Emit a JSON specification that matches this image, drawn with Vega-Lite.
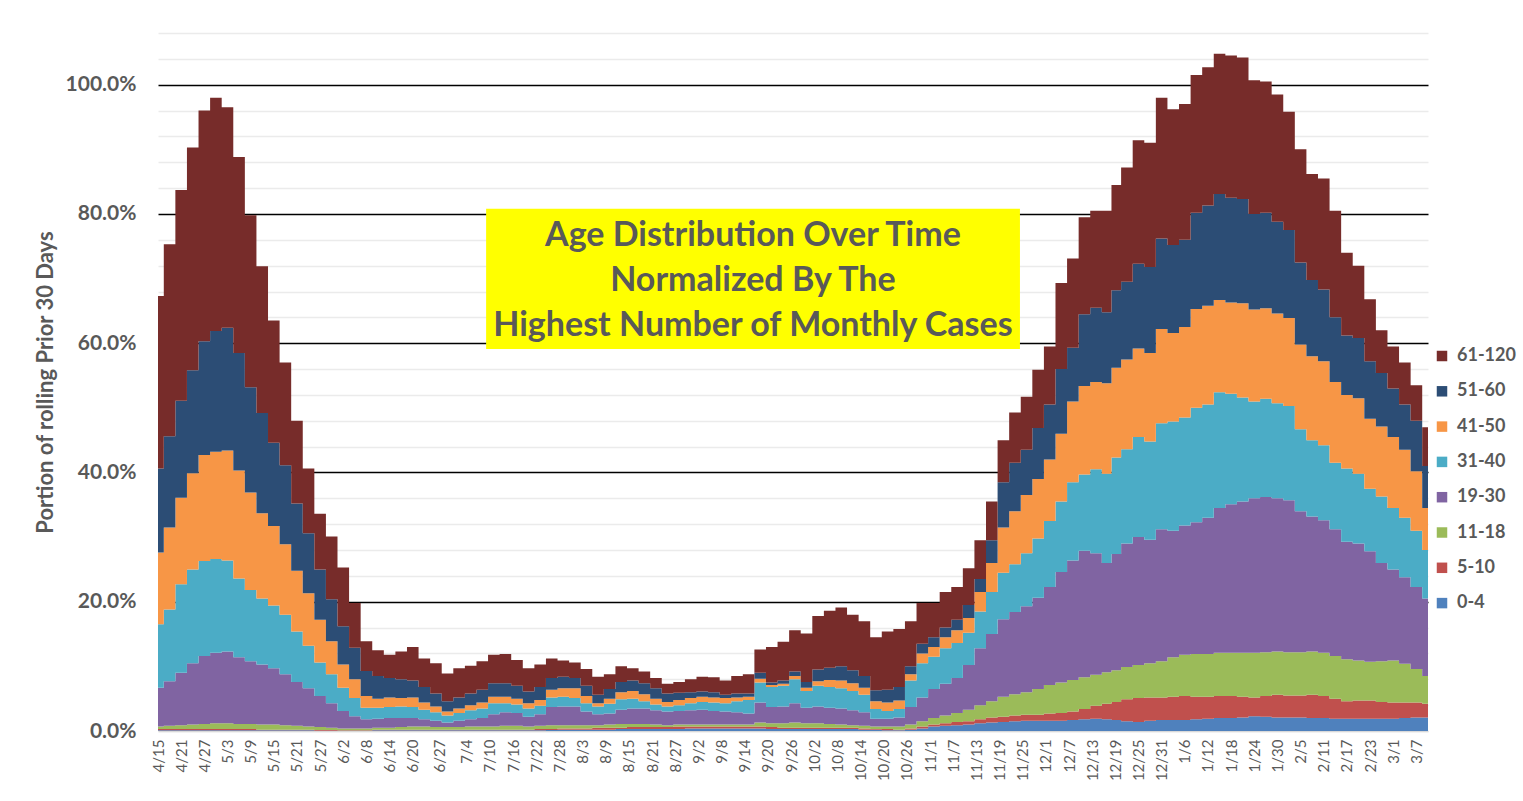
{
"$schema":"https://vega.github.io/schema/vega-lite/v6.json",
"width":1270,"height":698,
"autosize":{"type":"none"},
"padding":{"left":158,"top":33,"right":95,"bottom":70},
"background":"white",
"config":{"view":{"stroke":null},"font":"Lato"},
"datasets":{
"groups":[{"k":"a","age":"0-4","o":1},{"k":"b","age":"5-10","o":2},{"k":"c","age":"11-18","o":3},{"k":"d","age":"19-30","o":4},{"k":"e","age":"31-40","o":5},{"k":"f","age":"41-50","o":6},{"k":"g","age":"51-60","o":7},{"k":"h","age":"61-120","o":8}],
"rows":[
{"day":"2020-04-15","a":0.1,"b":0.2,"c":0.4,"d":6.0,"e":9.8,"f":11.1,"g":13.0,"h":26.7},
{"day":"2020-04-18","a":0.1,"b":0.2,"c":0.5,"d":6.9,"e":11.1,"f":12.7,"g":14.1,"h":29.7},
{"day":"2020-04-21","a":0.1,"b":0.2,"c":0.6,"d":8.1,"e":13.7,"f":13.4,"g":15.0,"h":32.6},
{"day":"2020-04-24","a":0.1,"b":0.2,"c":0.7,"d":9.5,"e":14.5,"f":14.9,"g":15.9,"h":34.5},
{"day":"2020-04-27","a":0.1,"b":0.2,"c":0.8,"d":10.5,"e":14.7,"f":16.4,"g":17.6,"h":35.7},
{"day":"2020-04-30","a":0.1,"b":0.2,"c":0.9,"d":10.9,"e":14.5,"f":16.6,"g":18.7,"h":36.1},
{"day":"2020-05-03","a":0.1,"b":0.2,"c":0.9,"d":11.1,"e":14.1,"f":17.0,"g":19.0,"h":34.1},
{"day":"2020-05-06","a":0.1,"b":0.2,"c":0.8,"d":10.3,"e":12.2,"f":16.7,"g":18.2,"h":30.3},
{"day":"2020-05-09","a":0.1,"b":0.2,"c":0.8,"d":9.7,"e":11.0,"f":15.1,"g":16.3,"h":26.6},
{"day":"2020-05-12","a":0.1,"b":0.1,"c":0.8,"d":9.3,"e":10.2,"f":13.2,"g":15.5,"h":22.7},
{"day":"2020-05-15","a":0.1,"b":0.1,"c":0.8,"d":8.7,"e":9.7,"f":12.3,"g":12.9,"h":18.9},
{"day":"2020-05-18","a":0.1,"b":0.1,"c":0.7,"d":7.9,"e":9.2,"f":10.9,"g":12.2,"h":15.9},
{"day":"2020-05-21","a":0.1,"b":0.1,"c":0.6,"d":6.8,"e":7.8,"f":9.4,"g":10.4,"h":12.8},
{"day":"2020-05-24","a":0.1,"b":0.1,"c":0.5,"d":5.9,"e":6.6,"f":8.1,"g":9.3,"h":10.0},
{"day":"2020-05-27","a":0.05,"b":0.1,"c":0.45,"d":4.8,"e":5.2,"f":6.6,"g":7.8,"h":8.6},
{"day":"2020-05-30","a":0.05,"b":0.1,"c":0.35,"d":3.8,"e":4.5,"f":5.1,"g":6.5,"h":9.7},
{"day":"2020-06-02","a":0.05,"b":0.05,"c":0.3,"d":2.7,"e":3.6,"f":3.6,"g":5.9,"h":9.1},
{"day":"2020-06-05","a":0.05,"b":0.05,"c":0.3,"d":1.9,"e":2.8,"f":2.9,"g":4.9,"h":6.9},
{"day":"2020-06-08","a":0.05,"b":0.05,"c":0.3,"d":1.4,"e":1.8,"f":1.8,"g":3.9,"h":4.6},
{"day":"2020-06-11","a":0.1,"b":0.1,"c":0.3,"d":1.4,"e":1.7,"f":1.4,"g":3.5,"h":4.0},
{"day":"2020-06-14","a":0.1,"b":0.1,"c":0.3,"d":1.5,"e":1.7,"f":1.5,"g":3.0,"h":3.6},
{"day":"2020-06-17","a":0.1,"b":0.1,"c":0.4,"d":1.4,"e":1.8,"f":1.3,"g":2.9,"h":4.3},
{"day":"2020-06-20","a":0.1,"b":0.1,"c":0.5,"d":1.3,"e":1.7,"f":1.5,"g":2.6,"h":5.2},
{"day":"2020-06-23","a":0.1,"b":0.1,"c":0.5,"d":1.1,"e":1.5,"f":1.1,"g":2.4,"h":4.4},
{"day":"2020-06-26","a":0.1,"b":0.1,"c":0.4,"d":1.0,"e":1.3,"f":0.9,"g":2.0,"h":4.7},
{"day":"2020-06-29","a":0.1,"b":0.1,"c":0.4,"d":0.7,"e":1.1,"f":0.6,"g":1.6,"h":4.3},
{"day":"2020-07-02","a":0.1,"b":0.1,"c":0.4,"d":1.0,"e":1.2,"f":0.7,"g":1.7,"h":4.5},
{"day":"2020-07-05","a":0.1,"b":0.1,"c":0.5,"d":1.1,"e":1.4,"f":0.8,"g":1.8,"h":4.3},
{"day":"2020-07-08","a":0.1,"b":0.1,"c":0.5,"d":1.3,"e":1.5,"f":0.9,"g":2.0,"h":4.4},
{"day":"2020-07-11","a":0.1,"b":0.1,"c":0.5,"d":1.9,"e":1.7,"f":1.0,"g":2.1,"h":4.4},
{"day":"2020-07-14","a":0.1,"b":0.1,"c":0.6,"d":2.1,"e":1.4,"f":1.0,"g":2.1,"h":4.5},
{"day":"2020-07-17","a":0.1,"b":0.1,"c":0.6,"d":2.0,"e":1.3,"f":0.9,"g":2.0,"h":4.0},
{"day":"2020-07-20","a":0.1,"b":0.1,"c":0.5,"d":1.5,"e":1.3,"f":0.8,"g":1.8,"h":3.6},
{"day":"2020-07-23","a":0.1,"b":0.2,"c":0.5,"d":1.8,"e":1.3,"f":0.9,"g":2.0,"h":3.5},
{"day":"2020-07-26","a":0.15,"b":0.15,"c":0.6,"d":2.8,"e":1.5,"f":1.2,"g":1.8,"h":3.0},
{"day":"2020-07-29","a":0.2,"b":0.2,"c":0.5,"d":2.9,"e":1.5,"f":1.3,"g":1.8,"h":2.5},
{"day":"2020-08-01","a":0.2,"b":0.2,"c":0.5,"d":2.9,"e":1.3,"f":1.5,"g":1.6,"h":2.4},
{"day":"2020-08-04","a":0.2,"b":0.2,"c":0.5,"d":2.1,"e":1.3,"f":1.1,"g":1.6,"h":2.6},
{"day":"2020-08-07","a":0.2,"b":0.3,"c":0.4,"d":1.7,"e":1.2,"f":0.5,"g":1.3,"h":2.8},
{"day":"2020-08-10","a":0.2,"b":0.3,"c":0.5,"d":1.7,"e":1.5,"f":0.8,"g":1.5,"h":2.3},
{"day":"2020-08-13","a":0.3,"b":0.2,"c":0.6,"d":2.2,"e":1.6,"f":1.1,"g":1.6,"h":2.4},
{"day":"2020-08-16","a":0.3,"b":0.3,"c":0.5,"d":2.4,"e":1.5,"f":1.2,"g":1.6,"h":1.9},
{"day":"2020-08-19","a":0.3,"b":0.3,"c":0.5,"d":2.4,"e":1.1,"f":1.1,"g":1.7,"h":1.8},
{"day":"2020-08-22","a":0.3,"b":0.3,"c":0.4,"d":2.2,"e":0.9,"f":0.9,"g":1.6,"h":1.6},
{"day":"2020-08-25","a":0.3,"b":0.3,"c":0.3,"d":2.1,"e":0.8,"f":0.7,"g":1.3,"h":1.5},
{"day":"2020-08-28","a":0.3,"b":0.4,"c":0.3,"d":2.1,"e":0.9,"f":0.8,"g":1.1,"h":1.7},
{"day":"2020-08-31","a":0.4,"b":0.3,"c":0.3,"d":2.2,"e":1.1,"f":0.8,"g":0.9,"h":2.0},
{"day":"2020-09-03","a":0.4,"b":0.3,"c":0.3,"d":2.3,"e":1.2,"f":0.8,"g":0.8,"h":2.3},
{"day":"2020-09-06","a":0.4,"b":0.3,"c":0.3,"d":2.1,"e":1.3,"f":0.8,"g":0.8,"h":2.3},
{"day":"2020-09-09","a":0.4,"b":0.3,"c":0.3,"d":2.0,"e":1.3,"f":0.8,"g":0.5,"h":2.2},
{"day":"2020-09-12","a":0.4,"b":0.3,"c":0.3,"d":1.9,"e":1.7,"f":0.6,"g":0.6,"h":2.7},
{"day":"2020-09-15","a":0.4,"b":0.3,"c":0.3,"d":1.7,"e":2.1,"f":0.5,"g":0.5,"h":3.0},
{"day":"2020-09-18","a":0.4,"b":0.3,"c":0.6,"d":3.1,"e":3.1,"f":0.6,"g":0.9,"h":3.6},
{"day":"2020-09-21","a":0.3,"b":0.3,"c":0.6,"d":2.5,"e":3.1,"f":0.3,"g":0.4,"h":5.5},
{"day":"2020-09-24","a":0.3,"b":0.2,"c":0.7,"d":2.6,"e":3.2,"f":0.3,"g":0.5,"h":6.0},
{"day":"2020-09-27","a":0.3,"b":0.2,"c":0.8,"d":3.0,"e":3.7,"f":0.5,"g":0.7,"h":6.4},
{"day":"2020-09-30","a":0.3,"b":0.2,"c":0.7,"d":2.4,"e":2.6,"f":0.5,"g":0.9,"h":7.5},
{"day":"2020-10-03","a":0.3,"b":0.2,"c":0.7,"d":2.6,"e":3.2,"f":0.7,"g":1.8,"h":8.3},
{"day":"2020-10-06","a":0.3,"b":0.2,"c":0.6,"d":2.5,"e":3.2,"f":1.1,"g":1.9,"h":8.8},
{"day":"2020-10-09","a":0.3,"b":0.2,"c":0.5,"d":2.5,"e":3.1,"f":1.2,"g":2.2,"h":9.1},
{"day":"2020-10-12","a":0.3,"b":0.2,"c":0.4,"d":2.3,"e":3.0,"f":1.2,"g":2.0,"h":8.6},
{"day":"2020-10-15","a":0.2,"b":0.2,"c":0.4,"d":2.1,"e":2.7,"f":1.1,"g":1.8,"h":8.5},
{"day":"2020-10-18","a":0.2,"b":0.1,"c":0.4,"d":1.2,"e":1.5,"f":1.2,"g":1.7,"h":8.2},
{"day":"2020-10-21","a":0.1,"b":0.2,"c":0.4,"d":1.2,"e":1.2,"f":1.3,"g":2.0,"h":9.0},
{"day":"2020-10-24","a":0.1,"b":0.1,"c":0.5,"d":1.4,"e":1.3,"f":1.3,"g":2.1,"h":9.0},
{"day":"2020-10-27","a":0.2,"b":0.2,"c":0.6,"d":2.7,"e":4.1,"f":1.0,"g":1.2,"h":7.0},
{"day":"2020-10-30","a":0.4,"b":0.3,"c":0.8,"d":3.7,"e":5.3,"f":1.5,"g":1.5,"h":6.3},
{"day":"2020-11-02","a":0.7,"b":0.3,"c":1.0,"d":4.5,"e":5.0,"f":1.5,"g":1.5,"h":5.3},
{"day":"2020-11-05","a":0.8,"b":0.4,"c":1.2,"d":4.9,"e":5.5,"f":1.7,"g":1.5,"h":5.5},
{"day":"2020-11-08","a":0.9,"b":0.5,"c":1.4,"d":5.4,"e":5.4,"f":2.0,"g":1.6,"h":5.1},
{"day":"2020-11-11","a":1.0,"b":0.5,"c":1.8,"d":6.9,"e":5.0,"f":2.3,"g":2.0,"h":5.7},
{"day":"2020-11-14","a":1.2,"b":0.6,"c":2.2,"d":8.8,"e":5.7,"f":3.0,"g":2.0,"h":6.0},
{"day":"2020-11-17","a":1.3,"b":0.8,"c":2.5,"d":10.4,"e":6.5,"f":4.5,"g":3.5,"h":6.0},
{"day":"2020-11-20","a":1.4,"b":0.8,"c":3.1,"d":12.0,"e":7.2,"f":7.0,"g":7.0,"h":6.5},
{"day":"2020-11-23","a":1.5,"b":0.9,"c":3.3,"d":12.7,"e":7.4,"f":8.2,"g":7.5,"h":7.8},
{"day":"2020-11-26","a":1.6,"b":0.9,"c":3.5,"d":13.3,"e":8.2,"f":9.0,"g":7.0,"h":8.2},
{"day":"2020-11-29","a":1.6,"b":0.9,"c":4.0,"d":14.1,"e":9.2,"f":9.2,"g":7.9,"h":9.0},
{"day":"2020-12-02","a":1.6,"b":1.1,"c":4.4,"d":15.2,"e":10.2,"f":9.5,"g":8.5,"h":9.0},
{"day":"2020-12-05","a":1.6,"b":1.2,"c":4.7,"d":17.1,"e":10.9,"f":10.5,"g":10.0,"h":13.3},
{"day":"2020-12-08","a":1.7,"b":1.3,"c":4.9,"d":18.5,"e":12.1,"f":12.5,"g":8.3,"h":13.8},
{"day":"2020-12-11","a":1.8,"b":1.6,"c":4.9,"d":19.6,"e":11.8,"f":13.7,"g":11.1,"h":15.0},
{"day":"2020-12-14","a":1.9,"b":2.0,"c":4.8,"d":18.8,"e":13.0,"f":13.5,"g":11.5,"h":15.0},
{"day":"2020-12-17","a":1.8,"b":2.4,"c":4.9,"d":16.9,"e":13.8,"f":14.0,"g":11.0,"h":15.7},
{"day":"2020-12-19","a":1.7,"b":2.8,"c":4.9,"d":18.0,"e":14.9,"f":13.9,"g":12.0,"h":16.3},
{"day":"2020-12-22","a":1.5,"b":3.4,"c":5.0,"d":19.1,"e":14.6,"f":13.9,"g":12.0,"h":17.7},
{"day":"2020-12-25","a":1.4,"b":3.7,"c":5.1,"d":19.8,"e":15.5,"f":13.7,"g":13.1,"h":19.1},
{"day":"2020-12-28","a":1.6,"b":3.6,"c":5.3,"d":19.1,"e":15.2,"f":13.7,"g":13.3,"h":19.2},
{"day":"2020-12-31","a":1.7,"b":3.5,"c":5.6,"d":20.4,"e":16.4,"f":14.6,"g":14.0,"h":21.8},
{"day":"2021-01-03","a":1.7,"b":3.6,"c":6.1,"d":19.6,"e":16.9,"f":13.7,"g":13.6,"h":21.0},
{"day":"2021-01-06","a":1.7,"b":3.7,"c":6.4,"d":20.0,"e":16.7,"f":14.0,"g":13.5,"h":21.0},
{"day":"2021-01-09","a":1.8,"b":3.5,"c":6.6,"d":20.4,"e":17.7,"f":15.3,"g":14.9,"h":21.3},
{"day":"2021-01-12","a":1.9,"b":3.4,"c":6.6,"d":21.1,"e":17.5,"f":15.3,"g":15.5,"h":21.4},
{"day":"2021-01-15","a":2.0,"b":3.4,"c":6.7,"d":22.4,"e":17.9,"f":14.3,"g":16.4,"h":21.7},
{"day":"2021-01-18","a":2.0,"b":3.4,"c":6.7,"d":23.0,"e":17.1,"f":14.1,"g":16.2,"h":22.0},
{"day":"2021-01-21","a":2.1,"b":3.2,"c":6.8,"d":23.4,"e":16.1,"f":14.6,"g":16.1,"h":21.9},
{"day":"2021-01-24","a":2.3,"b":2.9,"c":6.9,"d":23.9,"e":15.0,"f":14.2,"g":14.8,"h":20.7},
{"day":"2021-01-27","a":2.2,"b":3.2,"c":6.8,"d":24.0,"e":15.2,"f":14.0,"g":14.8,"h":20.3},
{"day":"2021-01-30","a":2.1,"b":3.5,"c":6.7,"d":23.7,"e":14.7,"f":13.9,"g":14.2,"h":19.7},
{"day":"2021-02-02","a":2.1,"b":3.4,"c":6.7,"d":23.5,"e":14.6,"f":13.6,"g":13.6,"h":18.3},
{"day":"2021-02-05","a":2.1,"b":3.4,"c":6.7,"d":21.8,"e":12.7,"f":13.1,"g":12.7,"h":17.5},
{"day":"2021-02-08","a":2.0,"b":3.6,"c":6.7,"d":20.9,"e":11.8,"f":13.0,"g":11.8,"h":16.4},
{"day":"2021-02-11","a":2.0,"b":3.4,"c":6.7,"d":20.5,"e":11.6,"f":13.0,"g":11.1,"h":17.2},
{"day":"2021-02-14","a":1.9,"b":3.1,"c":6.6,"d":19.6,"e":10.3,"f":12.5,"g":10.0,"h":16.5},
{"day":"2021-02-17","a":1.9,"b":2.7,"c":6.5,"d":18.2,"e":11.3,"f":11.4,"g":9.2,"h":12.8},
{"day":"2021-02-20","a":1.9,"b":2.8,"c":6.2,"d":18.1,"e":10.8,"f":11.7,"g":9.3,"h":11.2},
{"day":"2021-02-23","a":1.9,"b":2.8,"c":6.0,"d":17.1,"e":9.7,"f":10.8,"g":8.9,"h":9.6},
{"day":"2021-02-26","a":1.9,"b":2.6,"c":6.3,"d":15.2,"e":10.3,"f":10.8,"g":8.3,"h":6.6},
{"day":"2021-03-01","a":1.9,"b":2.5,"c":6.5,"d":14.1,"e":9.5,"f":11.0,"g":7.5,"h":6.5},
{"day":"2021-03-04","a":2.0,"b":2.4,"c":6.0,"d":13.4,"e":9.2,"f":10.5,"g":7.0,"h":6.5},
{"day":"2021-03-07","a":2.1,"b":2.3,"c":5.2,"d":12.7,"e":8.7,"f":9.2,"g":7.8,"h":5.5},
{"day":"2021-03-10","a":2.1,"b":2.1,"c":4.3,"d":12.0,"e":7.5,"f":6.5,"g":6.5,"h":6.0}
]},
"layer":[
{
"data":{"name":"rows"},
"transform":[
{"fold":["a","b","c","d","e","f","g","h"],"as":["k","v"]},
{"lookup":"k","from":{"data":{"name":"groups"},"key":"k","fields":["age","o"]}}
],
"mark":{"type":"area","interpolate":"step"},
"encoding":{
"x":{"field":"day","type":"temporal",
"scale":{"type":"utc","domain":[{"year":2020,"month":4,"date":15,"utc":true},{"year":2021,"month":3,"date":10,"utc":true}],"nice":false},
"axis":{"title":null,"tickCount":{"interval":"day","step":1},
"labelExpr":"(round((datum.value - utc(2020,3,15))/864e5) <= 66 && round((datum.value - utc(2020,3,15))/864e5) % 6 == 0) || round((datum.value - utc(2020,3,15))/864e5) == 73 || (round((datum.value - utc(2020,3,15))/864e5) >= 80 && (round((datum.value - utc(2020,3,15))/864e5) - 80) % 6 == 0) ? utcFormat(datum.value, '%-m/%-d') : ''",
"labelAngle":270,"labelFontSize":15,"labelColor":"#595959","labelPadding":8,"ticks":false,"grid":false,
"domainColor":"#d9d9d9","domainWidth":1.3,"labelOverlap":false,"labelFlush":false,"labelBound":false}},
"y":{"field":"v","type":"quantitative","stack":"zero",
"scale":{"domain":[0,108],"nice":false,"zero":true},
"axis":{"values":[0,4,8,12,16,20,24,28,32,36,40,44,48,52,56,60,64,68,72,76,80,84,88,92,96,100,104,108],"tickCount":60,
"labelExpr":"datum.value % 20 == 0 ? format(datum.value/100, '.1%') : ''",
"title":"Portion of rolling Prior 30 Days","titleFontSize":22,"titleFontWeight":"bold","titleColor":"#595959","titlePadding":8,
"labelFontSize":21,"labelFontWeight":"bold","labelColor":"#595959","labelPadding":22,"ticks":false,"domain":false,"labelOverlap":false,
"grid":true,
"gridColor":{"condition":{"test":"datum.value % 20 == 0 && datum.value > 0","value":"#000000"},"value":"#ebebeb"},
"gridWidth":{"condition":{"test":"datum.value % 20 == 0 && datum.value > 0","value":1.3},"value":1.5}}},
"color":{"field":"age","type":"nominal",
"scale":{"domain":["61-120","51-60","41-50","31-40","19-30","11-18","5-10","0-4"],
"range":["#772C2A","#2C4D75","#F79646","#4BACC6","#8064A2","#9BBB59","#C0504D","#4F81BD"]},
"legend":{"orient":"none","legendX":1275,"legendY":314,"title":null,"symbolType":"square","symbolSize":110,"symbolStrokeWidth":0,
"labelFontSize":18,"labelFontWeight":"bold","labelColor":"#595959","rowPadding":17.3,"labelOffset":6}},
"order":{"field":"o","type":"quantitative"}
}
},
{
"data":{"values":[{}]},
"mark":{"type":"rect","color":"#FFFF00"},
"encoding":{
"x":{"datum":{"year":2020,"month":7,"date":9,"utc":true},"type":"temporal"},
"x2":{"datum":{"year":2020,"month":11,"date":24,"hours":7,"utc":true}},
"y":{"datum":59.1,"type":"quantitative"},
"y2":{"datum":80.8}
}
},
{
"data":{"values":[{}]},
"mark":{"type":"text","text":["Age Distribution Over Time","Normalized By The","Highest Number of Monthly Cases"],
"fontSize":34,"fontWeight":"bold","color":"#595959","lineHeight":45,"align":"center","baseline":"middle"},
"encoding":{
"x":{"datum":{"year":2020,"month":9,"date":16,"hours":3,"utc":true},"type":"temporal"},
"y":{"datum":76.6,"type":"quantitative"}
}
}
]
}
